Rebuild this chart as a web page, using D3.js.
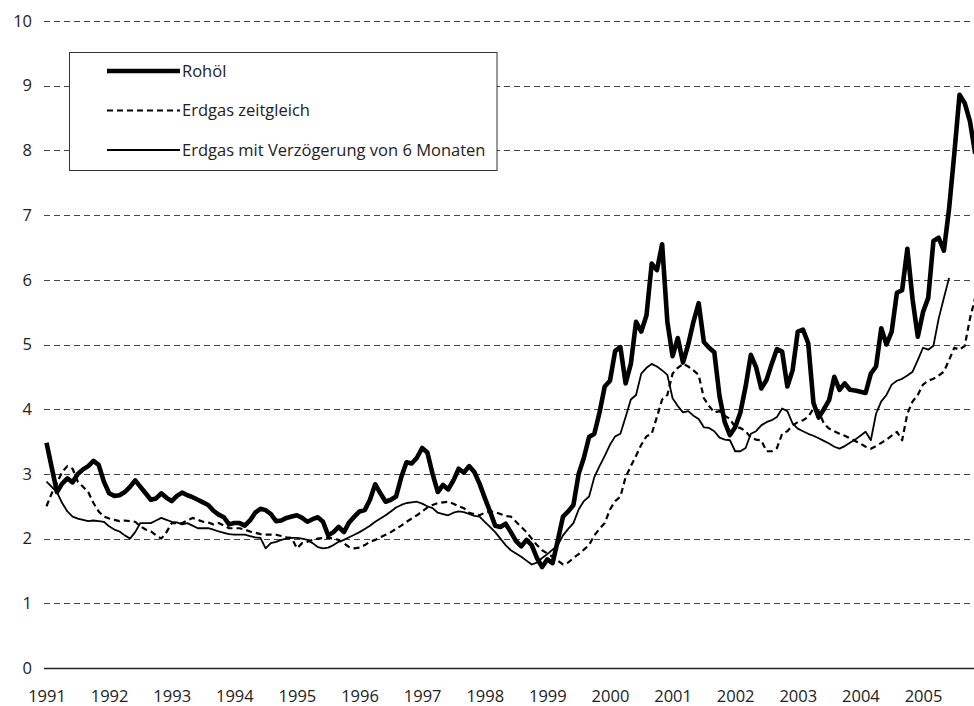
<!DOCTYPE html>
<html>
<head>
<meta charset="utf-8">
<script src="https://cdn.jsdelivr.net/npm/d3@7"></script>
<style>
  body { margin: 0; background: #fff; }
  svg { display: block; }
  text { font-family: "Open Sans", sans-serif; fill: #222; }
</style>
</head>
<body>
<div id="chart"></div>
<script>
// monthly values, starting January 1991
const startYear = 1991;
const yearTicks = d3.range(1991, 2006);
const yTicks = d3.range(0, 11);

const rohoel = [
  3.48, 3.10, 2.72, 2.85, 2.93, 2.87, 3.00, 3.07, 3.12, 3.20, 3.14, 2.88,
  2.70, 2.66, 2.67, 2.72, 2.80, 2.90, 2.80, 2.70, 2.60, 2.62, 2.70, 2.63,
  2.58, 2.66, 2.71, 2.67, 2.64, 2.60, 2.56, 2.52, 2.43, 2.37, 2.33, 2.22,
  2.24, 2.24, 2.20, 2.28, 2.40, 2.46, 2.44, 2.38, 2.27, 2.28, 2.32, 2.34,
  2.36, 2.32, 2.26, 2.30, 2.33, 2.26, 2.05, 2.10, 2.18, 2.10, 2.25, 2.34,
  2.42, 2.44, 2.60, 2.84, 2.70, 2.57, 2.60, 2.65, 2.95, 3.18, 3.16, 3.25,
  3.40, 3.33, 3.00, 2.72, 2.83, 2.76, 2.90, 3.08, 3.02, 3.12, 3.03, 2.85,
  2.63, 2.42, 2.20, 2.18, 2.23, 2.10, 1.96, 1.88, 1.98, 1.90, 1.70, 1.56,
  1.68, 1.62, 1.97, 2.34, 2.42, 2.52, 3.00, 3.25, 3.57, 3.62, 3.95, 4.35,
  4.44, 4.90, 4.96, 4.40, 4.70, 5.35, 5.20, 5.45, 6.25, 6.15, 6.55, 5.35,
  4.82, 5.10, 4.72, 5.00, 5.35, 5.64, 5.04, 4.95, 4.88, 4.20, 3.80, 3.60,
  3.72, 3.95, 4.35, 4.84, 4.65, 4.32, 4.45, 4.70, 4.93, 4.89, 4.35, 4.60,
  5.20, 5.23, 5.02, 4.10, 3.87, 4.00, 4.14, 4.50, 4.30, 4.40, 4.30, 4.29,
  4.27, 4.25, 4.55, 4.66, 5.25, 5.00, 5.20, 5.80, 5.84, 6.48, 5.70, 5.12,
  5.50, 5.72, 6.60, 6.65, 6.45, 7.10, 7.95, 8.86, 8.73, 8.45, 7.95
];

const erdgasZeitgleich = [
  2.50, 2.70, 2.86, 3.03, 3.12, 3.08, 2.88, 2.80, 2.72, 2.55, 2.42, 2.34,
  2.31, 2.29, 2.27, 2.28, 2.27, 2.26, 2.19, 2.14, 2.11, 2.05, 2.00, 2.10,
  2.24, 2.24, 2.24, 2.28, 2.32, 2.29, 2.26, 2.25, 2.22, 2.24, 2.20, 2.16,
  2.16, 2.16, 2.14, 2.11, 2.09, 2.07, 2.06, 2.06, 2.06, 2.04, 2.02, 2.01,
  1.85, 1.93, 1.95, 1.98, 2.00, 2.01, 2.01, 2.00, 1.98, 1.93, 1.87, 1.85,
  1.86, 1.90, 1.95, 1.98, 2.02, 2.06, 2.10, 2.15, 2.20, 2.26, 2.31, 2.36,
  2.42, 2.48, 2.52, 2.55, 2.56, 2.57, 2.54, 2.50, 2.47, 2.40, 2.38, 2.36,
  2.40, 2.42, 2.41, 2.38, 2.35, 2.34, 2.26, 2.18, 2.10, 2.00, 1.90, 1.82,
  1.77, 1.72, 1.66, 1.60, 1.63, 1.70, 1.76, 1.83, 1.90, 2.05, 2.15, 2.24,
  2.45, 2.58, 2.65, 2.95, 3.12, 3.28, 3.45, 3.58, 3.62, 3.88, 4.15, 4.22,
  4.55, 4.64, 4.70, 4.66, 4.60, 4.53, 4.17, 4.05, 3.95, 3.97, 3.90, 3.85,
  3.72, 3.71, 3.66, 3.56, 3.53, 3.52, 3.35, 3.35, 3.40, 3.62, 3.66, 3.75,
  3.80, 3.83, 3.88, 4.01, 3.97, 3.78, 3.70, 3.66, 3.62, 3.59, 3.55, 3.51,
  3.47, 3.42, 3.39, 3.43, 3.48, 3.53, 3.59, 3.65, 3.52, 3.93, 4.12, 4.22,
  4.38, 4.44, 4.47, 4.52, 4.58, 4.76, 4.95, 4.92, 4.98, 5.40, 5.72, 6.03
];

// gas price shifted by six months (value of month t+6 plotted at month t)
const erdgasVerzoegert = [
  2.88, 2.80, 2.72, 2.55, 2.42, 2.34,
  2.31, 2.29, 2.27, 2.28, 2.27, 2.26, 2.19, 2.14, 2.11, 2.05, 2.00, 2.10,
  2.24, 2.24, 2.24, 2.28, 2.32, 2.29, 2.26, 2.25, 2.22, 2.24, 2.20, 2.16,
  2.16, 2.16, 2.14, 2.11, 2.09, 2.07, 2.06, 2.06, 2.06, 2.04, 2.02, 2.01,
  1.85, 1.93, 1.95, 1.98, 2.00, 2.01, 2.01, 2.00, 1.98, 1.93, 1.87, 1.85,
  1.86, 1.90, 1.95, 1.98, 2.02, 2.06, 2.10, 2.15, 2.20, 2.26, 2.31, 2.36,
  2.42, 2.48, 2.52, 2.55, 2.56, 2.57, 2.54, 2.50, 2.47, 2.40, 2.38, 2.36,
  2.40, 2.42, 2.41, 2.38, 2.35, 2.34, 2.26, 2.18, 2.10, 2.00, 1.90, 1.82,
  1.77, 1.72, 1.66, 1.60, 1.63, 1.70, 1.76, 1.83, 1.90, 2.05, 2.15, 2.24,
  2.45, 2.58, 2.65, 2.95, 3.12, 3.28, 3.45, 3.58, 3.62, 3.88, 4.15, 4.22,
  4.55, 4.64, 4.70, 4.66, 4.60, 4.53, 4.17, 4.05, 3.95, 3.97, 3.90, 3.85,
  3.72, 3.71, 3.66, 3.56, 3.53, 3.52, 3.35, 3.35, 3.40, 3.62, 3.66, 3.75,
  3.80, 3.83, 3.88, 4.01, 3.97, 3.78, 3.70, 3.66, 3.62, 3.59, 3.55, 3.51,
  3.47, 3.42, 3.39, 3.43, 3.48, 3.53, 3.59, 3.65, 3.52, 3.93, 4.12, 4.22,
  4.38, 4.44, 4.47, 4.52, 4.58, 4.76, 4.95, 4.92, 4.98, 5.40, 5.72, 6.03
];

const seriesNames = ["Rohöl", "Erdgas zeitgleich", "Erdgas mit Verzögerung von 6 Monaten"];

const width = 974, height = 706;
const plotLeft = 44, plotRight = 974;
const fontSize = "16.5px";

const svg = d3.select("#chart").append("svg")
  .attr("width", width)
  .attr("height", height);

const x = d3.scaleLinear().domain([1991, 2005]).range([46.5, 923]);
const y = d3.scaleLinear().domain([0, 10]).range([668, 21]);

// horizontal dashed grid
svg.append("g")
  .selectAll("line")
  .data(yTicks.filter(d => d > 0))
  .join("line")
  .attr("x1", plotLeft)
  .attr("x2", plotRight)
  .attr("y1", d => Math.round(y(d)) + 0.5)
  .attr("y2", d => Math.round(y(d)) + 0.5)
  .attr("stroke", "#444")
  .attr("stroke-width", 1)
  .attr("stroke-dasharray", "6,4");

// y labels
const yAxis = svg.append("g")
  .attr("transform", `translate(${plotLeft},0)`)
  .call(d3.axisLeft(y).tickValues(yTicks).tickSize(0).tickPadding(12).tickFormat(d3.format("d")));
yAxis.select(".domain").remove();
yAxis.selectAll("text").style("font-size", fontSize).attr("fill", "#222");

// x axis line and year labels
svg.append("line")
  .attr("x1", plotLeft).attr("x2", plotRight)
  .attr("y1", y(0) + 0.5).attr("y2", y(0) + 0.5)
  .attr("stroke", "#222").attr("stroke-width", 1.3);

const xAxis = svg.append("g")
  .attr("transform", `translate(0,${y(0)})`)
  .call(d3.axisBottom(x).tickValues(yearTicks).tickSize(0).tickPadding(22).tickFormat(d3.format("d")));
xAxis.select(".domain").remove();
xAxis.selectAll("text").style("font-size", fontSize).attr("fill", "#222");

const monthX = i => x(startYear + i / 12);
const line = d3.line()
  .x((d, i) => monthX(i))
  .y(d => y(d));

const styles = [
  { data: rohoel, width: 4.6, dash: null },
  { data: erdgasZeitgleich, width: 2.2, dash: "6,4" },
  { data: erdgasVerzoegert, width: 1.8, dash: null }
];

const plot = svg.append("g");
// draw lagged line first, oil on top
[2, 1, 0].forEach(k => {
  plot.append("path")
    .datum(styles[k].data)
    .attr("d", line)
    .attr("fill", "none")
    .attr("stroke", "#000")
    .attr("stroke-width", styles[k].width)
    .attr("stroke-linejoin", "round")
    .attr("stroke-dasharray", styles[k].dash);
});

// legend
const legend = svg.append("g");
const legendBox = legend.append("rect")
  .attr("x", 69.5).attr("y", 52.5)
  .attr("height", 118)
  .attr("fill", "#fff")
  .attr("stroke", "#333")
  .attr("stroke-width", 1);

let maxEnd = 0;
seriesNames.forEach((name, k) => {
  const ly = 71 + k * 39.5;
  legend.append("line")
    .attr("x1", 107).attr("x2", 180)
    .attr("y1", ly).attr("y2", ly)
    .attr("stroke", "#000")
    .attr("stroke-width", styles[k].width)
    .attr("stroke-dasharray", styles[k].dash);
  const t = legend.append("text")
    .attr("x", 182)
    .attr("y", ly)
    .attr("dy", "0.35em")
    .style("font-size", fontSize)
    .text(name);
  maxEnd = Math.max(maxEnd, 182 + t.node().getComputedTextLength());
});
legendBox.attr("width", Math.round(maxEnd + 12) - 69.5);
</script>
</body>
</html>
